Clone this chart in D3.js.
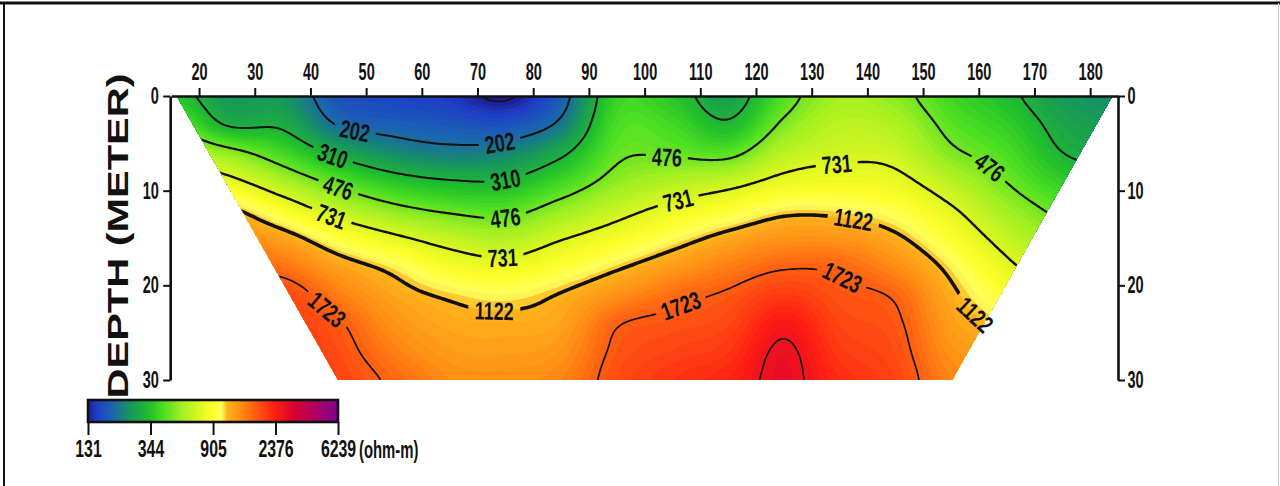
<!DOCTYPE html>
<html>
<head>
<meta charset="utf-8">
<script src="https://cdnjs.cloudflare.com/ajax/libs/d3/7.8.5/d3.min.js"></script>
<style>
  body { margin: 0; background: #fff; }
  text { font-family: "Liberation Sans", Arial, sans-serif; font-weight: bold; fill: #111; }
</style>
</head>
<body>
<div id="chart"></div>
<script>
// Resistivity pseudo-section, drawn from a gridded model

const width = 1280;
const height = 486;

// grid columns (distance, m) and rows (depth, m)
const distances = [15, 25, 35, 45, 55, 65, 75, 85, 95, 105, 115, 125, 135, 145, 155, 165, 175, 185];
const depths = [0, 3, 6, 9, 12, 15, 18, 21, 24, 27, 30];

const rhoDepth0  = [352, 260, 250, 170, 156, 146, 127, 181, 383, 352, 272, 427, 564, 518, 400, 330, 260, 239];
const rhoDepth3  = [475, 304, 295, 199, 183, 175, 169, 214, 416, 402, 323, 498, 626, 589, 442, 372, 284, 260];
const rhoDepth6  = [670, 529, 402, 290, 237, 218, 228, 293, 453, 461, 440, 620, 690, 673, 500, 420, 311, 284];
const rhoDepth9  = [945, 796, 587, 436, 350, 315, 315, 395, 522, 597, 659, 786, 820, 786, 617, 473, 370, 323];
const rhoDepth12 = [1276, 1171, 879, 645, 516, 453, 434, 534, 661, 789, 909, 1056, 1052, 961, 755, 557, 442, 367];
const rhoDepth15 = [1581, 1451, 1233, 944, 769, 650, 597, 715, 845, 1012, 1197, 1338, 1327, 1166, 894, 659, 518, 436];
const rhoDepth18 = [1878, 1723, 1568, 1244, 1052, 860, 799, 917, 1084, 1282, 1489, 1679, 1651, 1397, 1056, 772, 602, 496];
const rhoDepth21 = [2137, 1961, 1961, 1496, 1217, 1088, 1034, 1136, 1356, 1602, 1776, 2064, 1823, 1672, 1176, 905, 699, 564];
const rhoDepth24 = [2230, 2092, 2092, 1761, 1344, 1197, 1176, 1233, 1687, 1823, 1944, 2480, 1952, 1791, 1260, 1052, 796, 642];
const rhoDepth27 = [2328, 2183, 2183, 1878, 1489, 1287, 1265, 1338, 1799, 1969, 2128, 2740, 2083, 1870, 1356, 1222, 905, 730];
const rhoDepth30 = [2429, 2279, 2230, 1961, 1651, 1391, 1361, 1451, 1878, 2137, 2328, 2800, 2230, 1961, 1451, 1391, 1029, 831];

// extent of the section (distance at surface and at 30 m)
const surfaceExtent = [16, 184];
const baseExtent = [45, 155.2];

const contourLevels = [131, 202, 310, 476, 731, 1122, 1723, 2645];
const xTicks = d3.range(20, 181, 10);
const depthTicks = [0, 10, 20, 30];
const colorbarTicks = [131, 344, 905, 2376, 6239];

// colour scale stops
const colorStopValues = [131, 150, 190, 250, 340, 420, 565, 760, 900, 1040, 1121, 1400, 1723, 2376, 3200, 4300, 6239];
const colorStopColors = ["#1c1c8e", "#1e3ec8", "#1a64b0", "#17945e", "#22c02a", "#4ade22", "#a6f022", "#e4f822",
                         "#ffff2c", "#ffff60", "#ffb41c", "#ff8c14", "#ff5e12", "#ff1e12", "#d60032", "#b00060", "#800090"];

// contour labels: level, distance, depth
const labelLevels   = [202, 202, 310, 310, 476, 476, 731, 731, 476, 731, 731, 1122, 1122, 476, 1122, 1723, 1723, 1723];
const labelDistance = [47.7, 74.0, 44.1, 74.9, 44.8, 74.9, 43.5, 74.6, 104.0, 105.8, 134.7, 72.8, 137.4, 161.1, 159.7, 43.0, 106.4, 135.1];
const labelDepth    = [4.1, 4.9, 6.4, 9.1, 9.6, 12.9, 12.9, 17.1, 6.8, 11.0, 7.6, 21.9, 13.1, 8.0, 22.9, 22.6, 22.1, 19.6];

const rows = [rhoDepth0, rhoDepth3, rhoDepth6, rhoDepth9, rhoDepth12, rhoDepth15,
              rhoDepth18, rhoDepth21, rhoDepth24, rhoDepth27, rhoDepth30];
const logGrid = rows.map(r => r.map(v => Math.log(v)));

const svg = d3.select("#chart").append("svg")
  .attr("width", width)
  .attr("height", height);
const defs = svg.append("defs");

const x = d3.scaleLinear().domain([15, 185]).range([171.2, 1118]);
const y = d3.scaleLinear().domain([0, 30]).range([96, 380]);

const color = d3.scaleLog().domain(colorStopValues).range(colorStopColors).clamp(true);

// smooth (Catmull-Rom) resampling of the log grid
function cr(p0, p1, p2, p3, t) {
  const t2 = t * t, t3 = t2 * t;
  return 0.5 * (2 * p1 + (-p0 + p2) * t + (2 * p0 - 5 * p1 + 4 * p2 - p3) * t2 + (-p0 + 3 * p1 - 3 * p2 + p3) * t3);
}
function locate(arr, v) {
  const n = arr.length;
  v = Math.max(arr[0], Math.min(arr[n - 1], v));
  let i = d3.bisectRight(arr, v) - 1;
  i = Math.max(0, Math.min(n - 2, i));
  return [i, (v - arr[i]) / (arr[i + 1] - arr[i])];
}
function field(dist, dep) {
  const [i, tx] = locate(distances, dist);
  const [j, ty] = locate(depths, dep);
  const c = k => Math.max(0, Math.min(distances.length - 1, k));
  const r = k => Math.max(0, Math.min(depths.length - 1, k));
  const rowVal = rr => cr(logGrid[rr][c(i - 1)], logGrid[rr][c(i)], logGrid[rr][c(i + 1)], logGrid[rr][c(i + 2)], tx);
  return cr(rowVal(r(j - 1)), rowVal(r(j)), rowVal(r(j + 1)), rowVal(r(j + 2)), ty);
}

const gx0 = 12, gx1 = 188, gsx = 0.5;
const gd0 = -1.5, gd1 = 31.5, gsd = 0.2;
const nx = Math.round((gx1 - gx0) / gsx) + 1;
const ny = Math.round((gd1 - gd0) / gsd) + 1;
const values = new Float64Array(nx * ny);
for (let j = 0; j < ny; j++) {
  for (let i = 0; i < nx; i++) {
    values[j * nx + i] = field(gx0 + i * gsx, gd0 + j * gsd);
  }
}

const toPx = p => [x(gx0 + (p[0] - 0.5) * gsx), y(gd0 + (p[1] - 0.5) * gsd)];
const proj = d3.geoTransform({
  point(gx, gy) { const p = toPx([gx, gy]); this.stream.point(p[0], p[1]); }
});
const path = d3.geoPath(proj);

// clip to the trapezoid section
const section = [[surfaceExtent[0], 0], [surfaceExtent[1], 0], [baseExtent[1], 30], [baseExtent[0], 30]];
defs.append("clipPath").attr("id", "sectionClip")
  .append("polygon")
  .attr("points", section.map(p => [x(p[0]), y(p[1])].join(",")).join(" "));

// colour fill bands
const lstep = Math.log(1.5364) / 10;
const lbase = Math.log(131);
const fillThr = d3.range(-8, 93).map(k => lbase + k * lstep);
const bands = d3.contours().size([nx, ny]).thresholds(fillThr)(values);

const plot = svg.append("g").attr("clip-path", "url(#sectionClip)");
plot.selectAll("path.band")
  .data(bands)
  .join("path")
  .attr("class", "band")
  .attr("d", path)
  .attr("fill", d => color(Math.exp(d.value + lstep / 2)));

// contour lines
const lineGen = d3.contours().size([nx, ny]);
const lines = contourLevels.map(v => {
  const c = lineGen.contour(values, Math.log(v));
  c.level = v;
  return c;
});
const lineWidth = {131: 1.6, 202: 2, 310: 2, 476: 2.2, 731: 2.4, 1122: 3.6, 1723: 1.7, 2645: 1.6};

// label placement: snap to nearest point of the contour, follow its direction
const inSection = p => {
  const d = y.invert(p[1]);
  if (d < 0.3 || d > 29.7) return false;
  const xl = surfaceExtent[0] + (baseExtent[0] - surfaceExtent[0]) * d / 30;
  const xr = surfaceExtent[1] + (baseExtent[1] - surfaceExtent[1]) * d / 30;
  const xv = x.invert(p[0]);
  return xv > xl + 0.5 && xv < xr - 0.5;
};
const labels = labelLevels.map((lv, k) => {
  const target = [x(labelDistance[k]), y(labelDepth[k])];
  const c = lines[contourLevels.indexOf(lv)];
  let best = null, bestD = Infinity;
  c.coordinates.forEach(poly => poly.forEach(ring => {
    const pts = ring.map(toPx);
    pts.forEach((p, i) => {
      if (!inSection(p)) return;
      const dd = (p[0] - target[0]) ** 2 + (p[1] - target[1]) ** 2;
      if (dd < bestD) { bestD = dd; best = {pts, i}; }
    });
  }));
  let px = target[0], py = target[1], ang = 0;
  if (best && bestD < 30 * 30) {
    const n = best.pts.length;
    const a = best.pts[(best.i - 4 + n) % n], b = best.pts[(best.i + 4) % n];
    px = best.pts[best.i][0]; py = best.pts[best.i][1];
    ang = Math.atan2(b[1] - a[1], b[0] - a[0]) * 180 / Math.PI;
    if (ang > 90) ang -= 180;
    if (ang < -90) ang += 180;
  }
  return {text: String(lv), px, py, ang, w: String(lv).length * 10};
});

const mask = defs.append("mask").attr("id", "labelGap")
  .attr("maskUnits", "userSpaceOnUse")
  .attr("x", 0).attr("y", 0).attr("width", width).attr("height", height);
mask.append("rect").attr("width", width).attr("height", height).attr("fill", "#fff");
mask.selectAll("rect.gap")
  .data(labels)
  .join("rect")
  .attr("class", "gap")
  .attr("x", d => -d.w / 2 - 6)
  .attr("y", -11)
  .attr("width", d => d.w + 12)
  .attr("height", 22)
  .attr("fill", "#000")
  .attr("transform", d => `translate(${d.px},${d.py}) rotate(${d.ang})`);

plot.append("g")
  .attr("mask", "url(#labelGap)")
  .selectAll("path.iso")
  .data(lines)
  .join("path")
  .attr("class", "iso")
  .attr("d", path)
  .attr("fill", "none")
  .attr("stroke", "#111")
  .attr("stroke-width", d => lineWidth[d.level])
  .attr("stroke-linejoin", "round");

svg.append("g")
  .selectAll("g")
  .data(labels)
  .join("g")
  .attr("transform", d => `translate(${d.px},${d.py}) rotate(${d.ang}) scale(0.72,1)`)
  .append("text")
  .attr("text-anchor", "middle")
  .attr("dy", "0.36em")
  .attr("font-size", 25)
  .text(d => d.text);

// axes
function styleAxis(g, size, squeeze) {
  g.attr("font-size", size).attr("font-family", null);
  g.select(".domain").attr("stroke", "#111").attr("stroke-width", 2.6);
  g.selectAll(".tick line").attr("stroke", "#111").attr("stroke-width", 2);
  g.selectAll(".tick text").attr("fill", "#111").attr("transform", `scale(${squeeze},1)`);
}

svg.append("g")
  .attr("transform", `translate(0,${y(0)})`)
  .call(d3.axisTop(x).tickValues(xTicks).tickSize(8).tickSizeOuter(0).tickPadding(8))
  .call(styleAxis, 23, 0.63);

svg.append("g")
  .attr("transform", `translate(${x(15) - 1},0)`)
  .call(d3.axisLeft(y).tickValues(depthTicks).tickSize(7).tickSizeOuter(0))
  .call(styleAxis, 23, 0.63)
  .call(g => g.selectAll(".tick text").attr("x", -18));

svg.append("g")
  .attr("transform", `translate(${x(185)},0)`)
  .call(d3.axisRight(y).tickValues(depthTicks).tickSize(7).tickSizeOuter(0))
  .call(styleAxis, 23, 0.63)
  .call(g => g.selectAll(".tick text").attr("x", 15));

// vertical axis title
svg.append("text")
  .attr("transform", "translate(118,236) rotate(-90)")
  .attr("text-anchor", "middle")
  .attr("dy", "0.36em")
  .attr("font-size", 29)
  .attr("font-weight", 900)
  .attr("textLength", 325)
  .attr("lengthAdjust", "spacingAndGlyphs")
  .text("DEPTH (METER)");

// colour bar
const cbar = d3.scaleLog().domain([131, 6239]).range([88, 338]);
const grad = defs.append("linearGradient").attr("id", "cbarGrad");
grad.selectAll("stop")
  .data(d3.range(0, 91))
  .join("stop")
  .attr("offset", k => `${(k / 90) * 100}%`)
  .attr("stop-color", k => color(131 * Math.pow(6239 / 131, k / 90)));

svg.append("rect")
  .attr("x", cbar.range()[0])
  .attr("y", 400)
  .attr("width", cbar.range()[1] - cbar.range()[0])
  .attr("height", 22)
  .attr("fill", "url(#cbarGrad)")
  .attr("stroke", "#111")
  .attr("stroke-width", 2.6);

const cax = svg.append("g")
  .attr("transform", "translate(0,422)")
  .call(d3.axisBottom(cbar).tickValues(colorbarTicks).tickFormat(d3.format("d")).tickSize(13).tickSizeOuter(0).tickPadding(5))
  .call(styleAxis, 24, 0.66);
cax.select(".domain").remove();

svg.append("g")
  .attr("transform", "translate(359,441)")
  .append("text")
  .attr("transform", "scale(0.62,1)")
  .attr("dy", "0.71em")
  .attr("font-size", 24)
  .attr("font-weight", "normal")
  .text("(ohm-m)");

// outer frame
svg.append("line").attr("x1", 0).attr("x2", width).attr("y1", 3).attr("y2", 3)
  .attr("stroke", "#111").attr("stroke-width", 3);
svg.append("line").attr("x1", 4).attr("x2", 4).attr("y1", 3).attr("y2", height)
  .attr("stroke", "#111").attr("stroke-width", 2);
svg.append("line").attr("x1", width - 1.5).attr("x2", width - 1.5).attr("y1", 3).attr("y2", height)
  .attr("stroke", "#ccc").attr("stroke-width", 1);
</script>
</body>
</html>
